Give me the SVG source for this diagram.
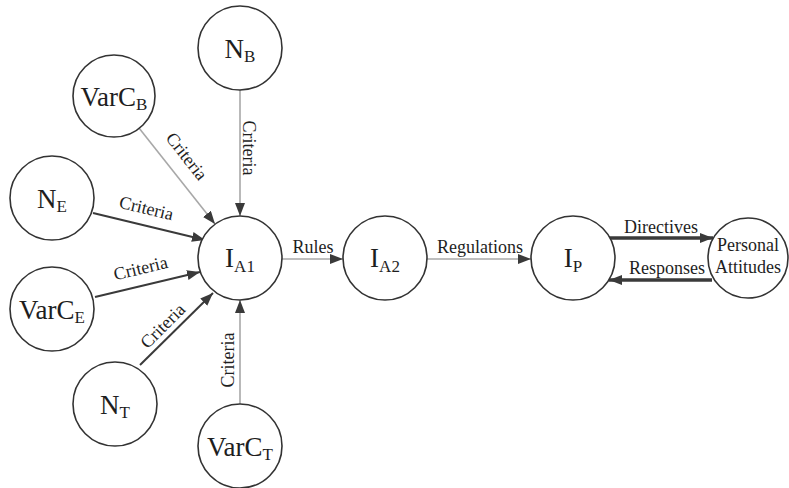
<svg xmlns="http://www.w3.org/2000/svg" width="789" height="488" viewBox="0 0 789 488">
<style>
.node circle{fill:#fff;stroke:#333;stroke-width:1.6}
.nl{font-family:"Liberation Serif","Times New Roman",serif;font-size:27px;fill:#1e1e1e;text-anchor:middle}
.sub{font-size:17px}
.el{font-family:"Liberation Serif","Times New Roman",serif;font-size:18px;fill:#1e1e1e;text-anchor:middle}
.pa{font-family:"Liberation Serif","Times New Roman",serif;font-size:18px;fill:#1e1e1e;text-anchor:middle}
.g{stroke:#a8a8a8;stroke-width:1.6;fill:none}
.d{stroke:#3a3a3a;stroke-width:2;fill:none}
.t{stroke:#3a3a3a;stroke-width:3.5;fill:none}
</style>
<defs>
<marker id="ah" markerUnits="userSpaceOnUse" markerWidth="14" markerHeight="12" refX="13" refY="5" orient="auto"><path d="M0,0 L13,5 L0,10 Z" fill="#3a3a3a"/></marker>
</defs>
<g id="connectors">
<line class="g" x1="240" y1="90" x2="240" y2="216" marker-end="url(#ah)"/>
<line class="g" x1="139" y1="128" x2="215" y2="224" marker-end="url(#ah)"/>
<line class="d" x1="93" y1="213" x2="205" y2="240" marker-end="url(#ah)"/>
<line class="d" x1="95" y1="297" x2="200" y2="272" marker-end="url(#ah)"/>
<line class="d" x1="140" y1="365" x2="213" y2="293" marker-end="url(#ah)"/>
<line class="g" x1="240" y1="404" x2="240" y2="300" marker-end="url(#ah)"/>
<line class="g" x1="282" y1="259" x2="343" y2="259" marker-end="url(#ah)"/>
<line class="g" x1="427" y1="259" x2="531" y2="259" marker-end="url(#ah)"/>
<line class="t" x1="609" y1="238" x2="713" y2="238" marker-end="url(#ah)"/>
<line class="t" x1="712" y1="280" x2="609" y2="280" marker-end="url(#ah)"/>
<text class="el" transform="translate(248,148) rotate(90)" dy="5">Criteria</text>
<text class="el" transform="translate(182,160) rotate(52)">Criteria</text>
<text class="el" transform="translate(145,214) rotate(13.5)">Criteria</text>
<text class="el" transform="translate(142,274) rotate(-13.5)">Criteria</text>
<text class="el" transform="translate(167,330) rotate(-45)">Criteria</text>
<text class="el" transform="translate(234,360) rotate(-90)">Criteria</text>
<text class="el" x="313" y="253">Rules</text>
<text class="el" x="480" y="253">Regulations</text>
<text class="el" x="661" y="233">Directives</text>
<text class="el" x="667" y="274">Responses</text>
</g>
<g id="NB" class="node"><circle cx="240" cy="48" r="42"/><text class="nl" x="240" y="58">N<tspan class="sub" dy="4">B</tspan></text></g>
<g id="VarCB" class="node"><circle cx="114" cy="96" r="41"/><text class="nl" x="114" y="106">VarC<tspan class="sub" dy="4">B</tspan></text></g>
<g id="NE" class="node"><circle cx="52" cy="198" r="42"/><text class="nl" x="52" y="208">N<tspan class="sub" dy="4">E</tspan></text></g>
<g id="IA1" class="node"><circle cx="240" cy="258" r="42"/><text class="nl" x="240" y="267">I<tspan class="sub" dy="5">A1</tspan></text></g>
<g id="VarCE" class="node"><circle cx="52" cy="309" r="42"/><text class="nl" x="52" y="319">VarC<tspan class="sub" dy="4">E</tspan></text></g>
<g id="NT" class="node"><circle cx="115" cy="404" r="42"/><text class="nl" x="115" y="414">N<tspan class="sub" dy="4">T</tspan></text></g>
<g id="VarCT" class="node"><circle cx="240" cy="446" r="42"/><text class="nl" x="240" y="456">VarC<tspan class="sub" dy="4">T</tspan></text></g>
<g id="IA2" class="node"><circle cx="385" cy="258" r="42"/><text class="nl" x="385" y="267">I<tspan class="sub" dy="5">A2</tspan></text></g>
<g id="IP" class="node"><circle cx="573" cy="258" r="42"/><text class="nl" x="573" y="267">I<tspan class="sub" dy="5">P</tspan></text></g>
<g id="PA" class="node"><circle cx="748" cy="258" r="40"/><text class="pa" x="748" y="251">Personal</text><text class="pa" x="748" y="273">Attitudes</text></g>
</svg>
